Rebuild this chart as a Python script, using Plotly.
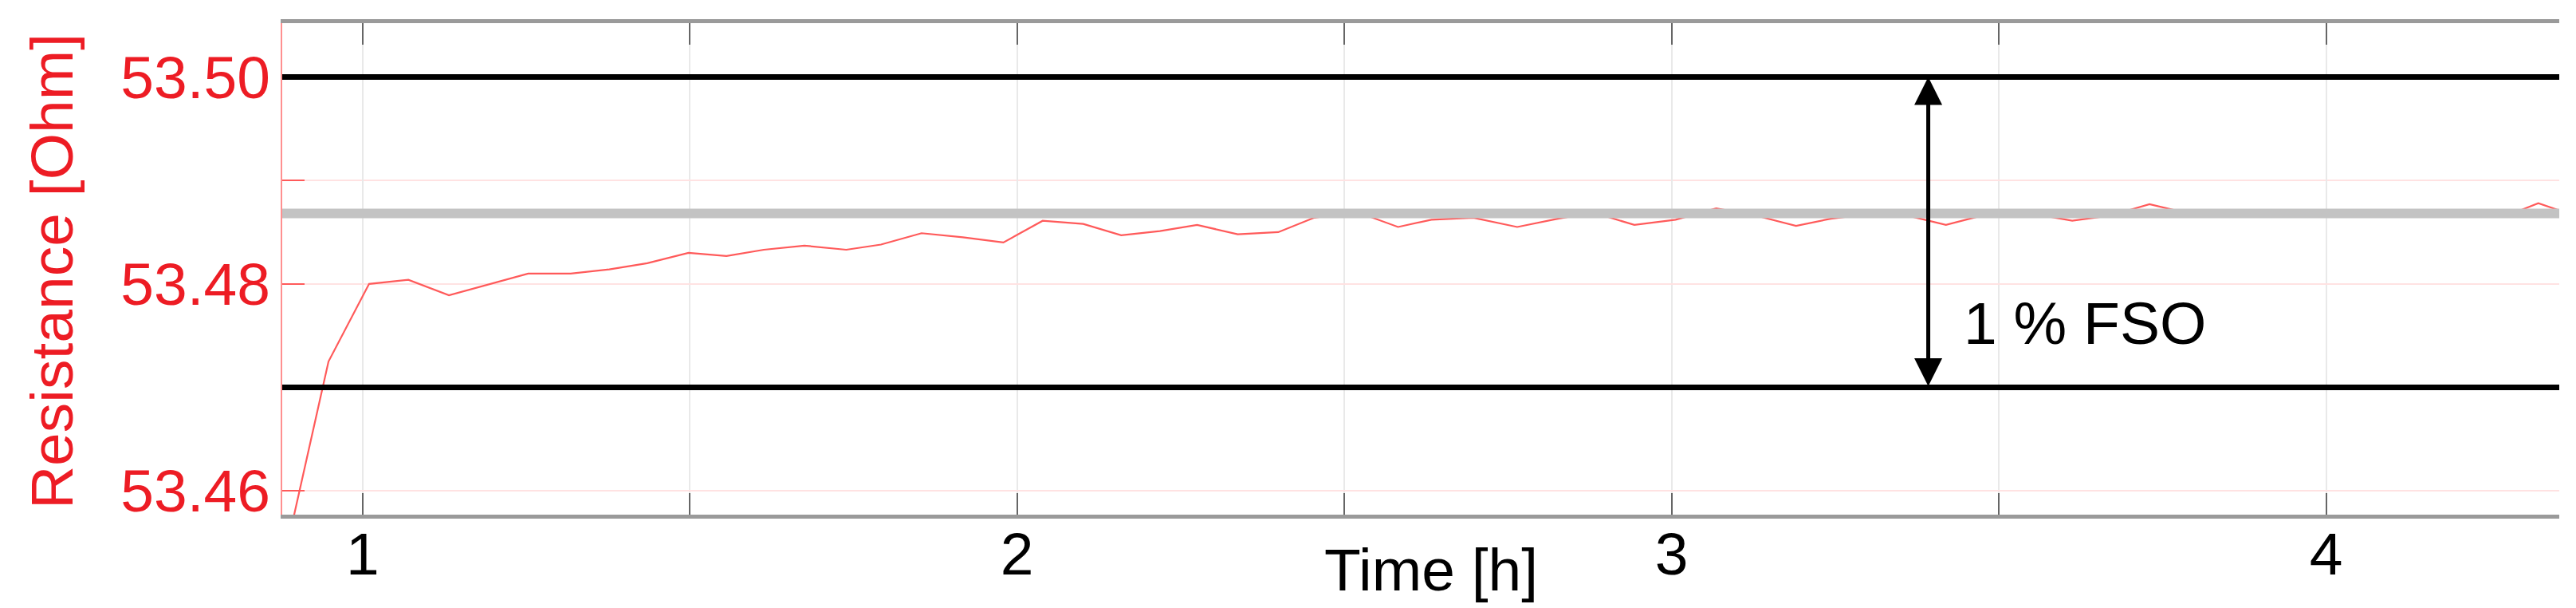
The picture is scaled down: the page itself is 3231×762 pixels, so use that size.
import plotly.graph_objects as go

# Dados (tempo em horas, resistência em Ohm)
tempo_h = [0.870, 0.948, 1.010, 1.070, 1.132, 1.253, 1.318, 1.377, 1.435, 1.498,
           1.556, 1.613, 1.675, 1.739, 1.792, 1.854, 1.917, 1.979, 2.039, 2.101,
           2.159, 2.218, 2.275, 2.337, 2.399, 2.454, 2.517, 2.582, 2.633, 2.697,
           2.764, 2.826, 2.880, 2.943, 3.006, 3.068, 3.129, 3.190, 3.243, 3.306,
           3.360, 3.419, 3.480, 3.550, 3.612, 3.670, 3.730, 3.790, 3.850, 3.910,
           3.980, 4.040, 4.100, 4.160, 4.220, 4.280, 4.324, 4.380]
resistencia = [53.4505, 53.4725, 53.4800, 53.4804, 53.4789, 53.4810, 53.4810, 53.4814, 53.4820, 53.4830,
               53.4827, 53.4833, 53.4837, 53.4833, 53.4838, 53.4849, 53.4845, 53.4840, 53.4861, 53.4858,
               53.4847, 53.4851, 53.4857, 53.4848, 53.4850, 53.4864, 53.4870, 53.4855, 53.4862, 53.4864,
               53.4855, 53.4863, 53.4869, 53.4857, 53.4862, 53.4873, 53.4866, 53.4856, 53.4863, 53.4868,
               53.4866, 53.4857, 53.4867, 53.4868, 53.4861, 53.4866, 53.4877, 53.4868, 53.4866, 53.4869,
               53.4867, 53.4865, 53.4868, 53.4866, 53.4869, 53.4867, 53.4878, 53.4866]

# Linhas de referência
limite_sup = 53.50
limite_inf = 53.47
valor_medio = 53.4868

# Eixos
x_range = [0.8773, 4.356]
y_range = [53.4577, 53.5052]
x_ticks = [1, 2, 3, 4]
y_ticks = [53.46, 53.48, 53.50]
y_tick_labels = ["53.46", "53.48", "53.50"]

seta_x = 3.392
texto_fso = "1 % FSO"

FONTE = "Liberation Sans, Arial, sans-serif"
VERMELHO = "#ed1c24"

fig = go.Figure()

# Curva de resistência
fig.add_trace(go.Scatter(x=tempo_h, y=resistencia, mode="lines",
                         line=dict(color="#ff5a5a", width=2.2), showlegend=False))

# Linha cinza (valor médio) e limites pretos
fig.add_shape(type="line", xref="paper", x0=0, x1=1, yref="y", y0=valor_medio, y1=valor_medio,
              line=dict(color="#c3c3c3", width=12), layer="above")
for lim in [limite_sup, limite_inf]:
    fig.add_shape(type="line", xref="paper", x0=0, x1=1, yref="y", y0=lim, y1=lim,
                  line=dict(color="black", width=7), layer="above")

# Seta dupla 1 % FSO
fig.add_annotation(x=seta_x, y=limite_sup, ax=seta_x, ay=limite_inf, xref="x", yref="y",
                   axref="x", ayref="y", text="", showarrow=True, arrowhead=2, arrowsize=1.4,
                   arrowwidth=5, arrowside="end+start", arrowcolor="black", standoff=0, startstandoff=0)
fig.add_annotation(x=3.444, y=53.4762, xref="x", yref="y", text=texto_fso, showarrow=False,
                   xanchor="left", yanchor="middle", font=dict(family=FONTE, size=75, color="black"))

# Títulos dos eixos
fig.add_annotation(x=2.633, y=-0.112, xref="x", yref="paper", text="Time [h]", showarrow=False,
                   xanchor="center", yanchor="middle", font=dict(family=FONTE, size=75, color="black"))
fig.add_annotation(x=-0.1012, y=0.495, xref="paper", yref="paper", text="Resistance [Ohm]",
                   showarrow=False, textangle=-90, xanchor="center", yanchor="middle",
                   font=dict(family=FONTE, size=75, color=VERMELHO))

fig.update_xaxes(range=x_range, tickmode="array", tickvals=x_ticks, ticktext=[str(t) for t in x_ticks],
                 ticks="inside", ticklen=27, tickwidth=2, tickcolor="#666666",
                 showline=True, linecolor="#9a9a9a", linewidth=5, mirror="allticks",
                 showgrid=True, gridcolor="#e9e9e9", gridwidth=2, zeroline=False,
                 tickfont=dict(family=FONTE, size=75, color="black"), ticklabelstandoff=-20,
                 minor=dict(dtick=0.5, tick0=0, ticks="inside", ticklen=27, tickwidth=2,
                            tickcolor="#666666", showgrid=True, gridcolor="#e9e9e9", gridwidth=2))
fig.update_yaxes(range=y_range, tickmode="array", tickvals=y_ticks, ticktext=y_tick_labels,
                 ticks="inside", ticklen=28, tickwidth=2, tickcolor="#ff5a5a",
                 showline=True, linecolor="#ff9090", linewidth=2, mirror=False,
                 showgrid=True, gridcolor="#ffe2e2", gridwidth=2, zeroline=False,
                 tickfont=dict(family=FONTE, size=75, color=VERMELHO), ticklabelstandoff=-2,
                 minor=dict(dtick=0.01, tick0=53.0, ticks="inside", ticklen=28, tickwidth=2,
                            tickcolor="#ff5a5a", showgrid=True, gridcolor="#ffe2e2", gridwidth=2))

fig.update_layout(width=3231, height=762, margin=dict(l=346, r=29, t=21, b=125),
                  plot_bgcolor="white", paper_bgcolor="white", showlegend=False,
                  font=dict(family=FONTE))

fig.write_html("out.html")
